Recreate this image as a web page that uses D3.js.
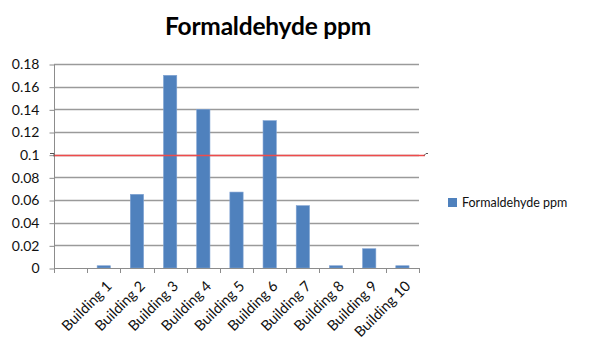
<!DOCTYPE html>
<html>
<head>
<meta charset="utf-8">
<script src="https://cdn.jsdelivr.net/npm/d3@7"></script>
<style>
  html, body { margin: 0; padding: 0; background: #fff; }
  svg { display: block; font-family: Lato, "Open Sans", sans-serif; }
</style>
</head>
<body>
<svg id="chart" width="595" height="343"></svg>
<script>
// Categories: the first slot is an unlabeled spacer category
const categories = ["", "Building 1", "Building 2", "Building 3", "Building 4", "Building 5",
                    "Building 6", "Building 7", "Building 8", "Building 9", "Building 10"];
const formaldehyde = [null, 0.002, 0.065, 0.17, 0.14, 0.067, 0.13, 0.055, 0.002, 0.017, 0.002];
const yTicks = [0, 0.02, 0.04, 0.06, 0.08, 0.1, 0.12, 0.14, 0.16, 0.18];
const yTickLabels = ["0", "0.02", "0.04", "0.06", "0.08", "0.1", "0.12", "0.14", "0.16", "0.18"];
const limitValue = 0.1;
const seriesName = "Formaldehyde ppm";
const titleText = "Formaldehyde ppm";

const svg = d3.select("#chart");
const plot = { left: 54, right: 419, top: 64, bottom: 268 };

const x = d3.scaleBand()
  .domain(categories.map((d, i) => i))
  .range([plot.left, plot.right])
  .paddingInner(0.6)
  .paddingOuter(0.3);

const y = d3.scaleLinear()
  .domain([0, 0.18])
  .range([plot.bottom, plot.top]);

// Title
svg.append("text")
  .attr("x", 268)
  .attr("y", 35)
  .attr("text-anchor", "middle")
  .attr("font-size", 24.5)
  .attr("font-weight", "bold")
  .attr("letter-spacing", -0.2)
  .attr("fill", "#000")
  .text(titleText);

// Horizontal gridlines
svg.append("g")
  .selectAll("line")
  .data(yTicks.slice(1))
  .join("line")
  .attr("x1", plot.left)
  .attr("x2", plot.right)
  .attr("y1", d => Math.round(y(d)) + 0.5)
  .attr("y2", d => Math.round(y(d)) + 0.5)
  .attr("stroke", "#9a9a9a")
  .attr("stroke-width", 1.3);

// Y axis
const yAxis = d3.axisLeft(y)
  .tickValues(yTicks)
  .tickFormat((d, i) => yTickLabels[i])
  .tickSize(5)
  .tickPadding(10);

const gy = svg.append("g")
  .attr("transform", `translate(${plot.left + 0.5},0.5)`)
  .call(yAxis);
gy.select(".domain").attr("stroke", "#8c8c8c").attr("d", `M-0,${plot.top}V${plot.bottom}`);
gy.selectAll(".tick line").attr("stroke", "#8c8c8c");
gy.selectAll(".tick text")
  .attr("font-size", 14)
  .attr("font-family", "Lato, sans-serif")
  .attr("fill", "#111");

// Bars
svg.append("g")
  .selectAll("rect")
  .data(formaldehyde.map((v, i) => ({ i, v })).filter(d => d.v != null))
  .join("rect")
  .attr("x", d => x(d.i))
  .attr("width", x.bandwidth())
  .attr("y", d => y(d.v))
  .attr("height", d => y(0) - y(d.v))
  .attr("fill", "#4f81bd")
  .attr("stroke", "#7fa3d3")
  .attr("stroke-width", 0.6);

// X axis with ticks on band boundaries
const step = x.step();
const boundaries = d3.range(categories.length + 1).map(i => plot.left + i * step);
const gx = svg.append("g");
gx.append("line")
  .attr("x1", plot.left).attr("x2", plot.right)
  .attr("y1", plot.bottom + 0.5).attr("y2", plot.bottom + 0.5)
  .attr("stroke", "#8c8c8c");
gx.selectAll(".btick")
  .data(boundaries)
  .join("line")
  .attr("class", "btick")
  .attr("x1", d => Math.round(d) + 0.5).attr("x2", d => Math.round(d) + 0.5)
  .attr("y1", plot.bottom).attr("y2", plot.bottom + 5)
  .attr("stroke", "#8c8c8c");

// Rotated category labels
gx.selectAll(".clabel")
  .data(categories.map((c, i) => ({ c, i })).filter(d => d.c))
  .join("text")
  .attr("class", "clabel")
  .attr("text-anchor", "end")
  .attr("font-size", 14.5)
  .attr("fill", "#111")
  .attr("transform", d => `translate(${x(d.i) + x.bandwidth() / 2 + 9},${plot.bottom + 19}) rotate(-45)`)
  .text(d => d.c);

// Limit line at 0.1 ppm
const yl = Math.round(y(limitValue)) + 0.5;
svg.append("line")
  .attr("x1", plot.left).attr("x2", 425)
  .attr("y1", yl).attr("y2", yl)
  .attr("stroke", "#ef4b4b")
  .attr("stroke-width", 1.5);
svg.append("path")
  .attr("d", `M${plot.left - 4},${yl - 2}L${plot.left},${yl - 2}L${plot.left},${yl + 1}`)
  .attr("fill", "none").attr("stroke", "#555").attr("stroke-width", 1);
svg.append("path")
  .attr("d", `M424,${yl}L426,${yl - 2}L428,${yl - 2}`)
  .attr("fill", "none").attr("stroke", "#555").attr("stroke-width", 1);

// Legend
const legend = svg.append("g").attr("transform", "translate(448,198)");
legend.append("rect")
  .attr("width", 9).attr("height", 9)
  .attr("fill", "#4f81bd");
legend.append("text")
  .attr("x", 14).attr("y", 9)
  .attr("font-size", 12.5)
  .attr("fill", "#111")
  .text(seriesName);
</script>
</body>
</html>
